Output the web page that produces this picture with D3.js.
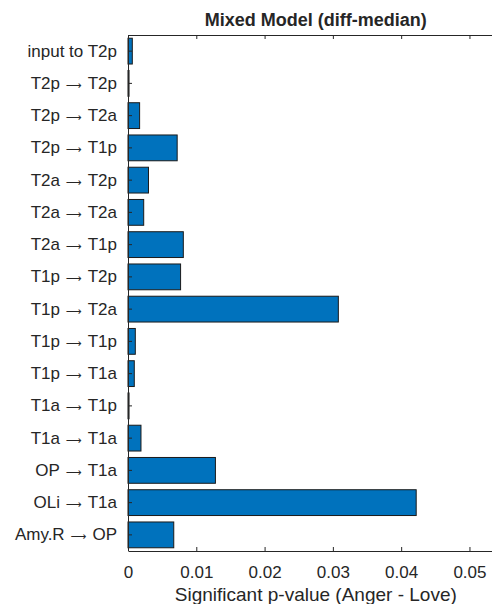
<!DOCTYPE html>
<html><head><meta charset="utf-8">
<script src="https://cdn.jsdelivr.net/npm/d3@7"></script>
<style>
html,body{margin:0;padding:0;background:#fff;}
svg{display:block;}
text{font-family:"Liberation Sans",Arial,Helvetica,sans-serif;fill:#262626;}
</style></head>
<body>
<svg id="chart" width="492" height="604"></svg>
<script>
const categories = ["input to T2p","T2p \u2192 T2p","T2p \u2192 T2a","T2p \u2192 T1p","T2a \u2192 T2p","T2a \u2192 T2a","T2a \u2192 T1p","T1p \u2192 T2p","T1p \u2192 T2a","T1p \u2192 T1p","T1p \u2192 T1a","T1a \u2192 T1p","T1a \u2192 T1a","OP \u2192 T1a","OLi \u2192 T1a","Amy.R \u2192 OP"];
const values = [0.00063,0.00015,0.0017,0.0072,0.0030,0.0023,0.0081,0.0077,0.0308,0.00107,0.00092,0.00015,0.0019,0.0128,0.0422,0.0067];
const xTicks = [0,0.01,0.02,0.03,0.04,0.05];
const xTickLabels = ["0","0.01","0.02","0.03","0.04","0.05"];
const titleText = "Mixed Model (diff-median)";
const xLabelText = "Significant p-value (Anger - Love)";

(function(){
const svg = d3.select("#chart");
const mLeft = 128, mTop = 35, mBottom = 551, mRight = 503.6;
const x = d3.scaleLinear().domain([0,0.055]).range([mLeft,mRight]);
const y = d3.scaleBand().domain(categories).range([mTop,mBottom]).paddingInner(0.2).paddingOuter(0.1);
const ink = "#262626";

// bars
svg.append("g").selectAll("rect").data(values).join("rect")
  .attr("x", x(0))
  .attr("y", (d,i)=>y(categories[i]))
  .attr("width", d=>x(d)-x(0))
  .attr("height", y.bandwidth())
  .attr("fill","#0072BD")
  .attr("stroke","#1a1a1a")
  .attr("stroke-width",1);

// x axis bottom (ticks inward)
const xAxis = d3.axisBottom(x).tickValues(xTicks).tickFormat((d,i)=>xTickLabels[i]).tickSizeInner(-4).tickSizeOuter(0).tickPadding(15);
const gx = svg.append("g").attr("transform",`translate(0,${mBottom})`).call(xAxis);
gx.select(".domain").attr("stroke",ink);
gx.selectAll(".tick line").attr("stroke",ink);
gx.selectAll("text").style("font-size","17px").attr("fill",ink);

// top box line with ticks
const xTop = d3.axisTop(x).tickValues(xTicks).tickFormat("").tickSizeInner(-4).tickSizeOuter(0);
const gt = svg.append("g").attr("transform",`translate(0,${mTop})`).call(xTop);
gt.select(".domain").attr("stroke",ink);
gt.selectAll(".tick line").attr("stroke",ink);

// y axis
const yAxis = d3.axisLeft(y).tickSizeInner(-4).tickSizeOuter(0).tickPadding(11);
const gy = svg.append("g").attr("transform",`translate(${mLeft},0)`).call(yAxis);
gy.select(".domain").attr("stroke",ink).attr("d",`M0.5,${mTop}V${mBottom}`);
gy.selectAll(".tick line").attr("stroke",ink);
gy.selectAll("text").style("font-size","17px").attr("fill",ink).each(function(d){
  const parts = d.split(" \u2192 ");
  if (parts.length === 2) {
    const t = d3.select(this).text(null);
    t.append("tspan").text(parts[0]);
    t.append("tspan").style("font-family","'DejaVu Sans'").style("font-size","11px").attr("dx","6").text("\u27F6");
    t.append("tspan").attr("dx","6").text(parts[1]);
  }
});

// right box
svg.append("line").attr("x1",mRight).attr("x2",mRight).attr("y1",mTop).attr("y2",mBottom).attr("stroke",ink);

// title
svg.append("text").attr("x",(mLeft+mRight)/2).attr("y",26).attr("text-anchor","middle")
  .style("font-size","18px").style("font-weight","bold").attr("fill","#000").text(titleText);

// x label
svg.append("text").attr("x",(mLeft+mRight)/2).attr("y",601).attr("text-anchor","middle")
  .style("font-size","19px").attr("fill",ink).text(xLabelText);
})();
</script>
</body></html>
